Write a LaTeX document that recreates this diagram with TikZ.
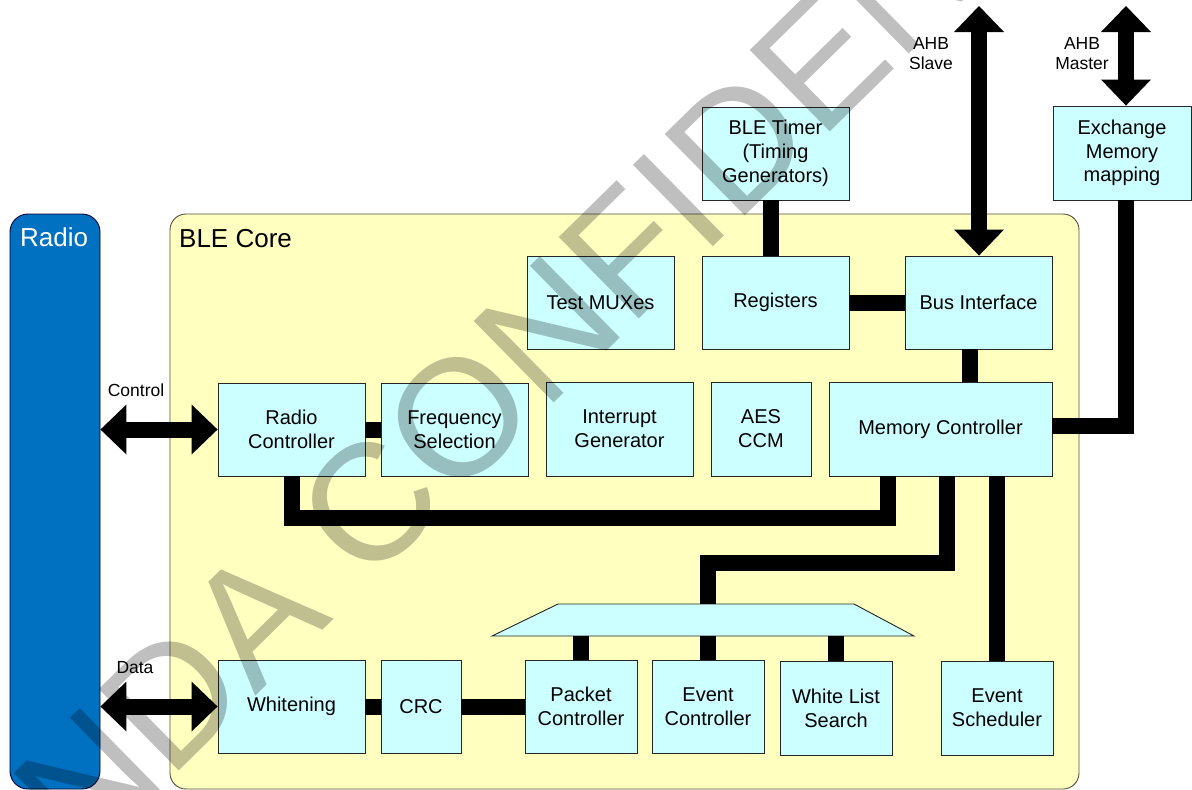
\documentclass[tikz,border=0pt]{standalone}
\usepackage{fontspec}
\setmainfont{Liberation Sans}
\usetikzlibrary{arrows.meta}
\definecolor{boxc}{RGB}{204,255,255}
\definecolor{corec}{RGB}{255,255,192}
\definecolor{radioc}{RGB}{0,112,192}
\definecolor{coreline}{RGB}{80,80,60}
\begin{document}
\begin{tikzpicture}[x=1pt,y=-1pt,
  box/.style={draw=black!85, line width=0.9pt, fill=boxc, align=center, inner sep=0pt, font=\fontsize{20}{23.8}\selectfont},
  shapeline/.style={draw=black!85, line width=0.9pt, fill=boxc},
  bus/.style={line width=16pt, line join=miter, draw=black},
  dbl/.style={line width=16pt, {Triangle[width=50pt,length=26pt,line width=0pt]}-{Triangle[width=50pt,length=26pt,line width=0pt]}},
  lbl/.style={align=center, inner sep=0pt, font=\fontsize{17.5}{20.3}\selectfont},
  title/.style={anchor=base west, inner sep=0pt, font=\fontsize{26}{30}\selectfont},
]
\useasboundingbox (0,0) rectangle (1192,790);
% containers
\node[draw=black!80!blue, line width=0.9pt, fill=radioc, rounded corners=18pt, minimum width=90pt, minimum height=575pt, inner sep=0pt] (radio) at (55,501.5) {};
\node[title, text=white] (radiot) at (20,246.5) {Radio};
\node[draw=coreline, line width=0.9pt, fill=corec, rounded corners=16pt, minimum width=909pt, minimum height=575pt, inner sep=0pt] (core) at (624.5,501.5) {};
\node[title] (coret) at (179,247) {BLE Core};
% boxes
\node[box, minimum width=147pt, minimum height=93pt] (timer) at (775.5,153.5) {BLE Timer\\(Timing\\Generators)};
\node[box, minimum width=138pt, minimum height=94pt] (exch) at (1122,153) {Exchange\\Memory\\mapping};
\node[box, minimum width=147pt, minimum height=93pt] (mux) at (600.5,302.5) {Test MUXes};
\node[box, minimum width=147pt, minimum height=93pt] (reg) at (775.5,302.5) {Registers};
\node[box, minimum width=147pt, minimum height=93pt] (bus) at (978.5,302.5) {Bus Interface};
\node[box, minimum width=147pt, minimum height=93pt] (rc) at (291.5,429.5) {Radio\\Controller};
\node[box, minimum width=147pt, minimum height=93pt] (fs) at (454.5,429.5) {Frequency\\Selection};
\node[box, minimum width=147pt, minimum height=94pt] (ig) at (619.5,429) {Interrupt\\Generator};
\node[box, minimum width=100pt, minimum height=94pt] (aes) at (761,429) {AES\\CCM};
\node[box, minimum width=223pt, minimum height=94pt] (mc) at (940.5,429) {Memory Controller};
\node[box, minimum width=147pt, minimum height=93pt] (wh) at (291.5,706.5) {Whitening};
\node[box, minimum width=80pt, minimum height=93pt] (crc) at (421,706.5) {CRC};
\node[box, minimum width=112pt, minimum height=93pt] (pc) at (581,706.5) {Packet\\Controller};
\node[box, minimum width=112pt, minimum height=93pt] (ec) at (708,706.5) {Event\\Controller};
\node[box, minimum width=112pt, minimum height=94pt] (wls) at (836,708) {White List\\Search};
\node[box, minimum width=112pt, minimum height=94pt] (es) at (997,708) {Event\\Scheduler};
% multiplexer trapezoid
\draw[shapeline] (492,636) -- (558,604) -- (854,604) -- (914,636) -- cycle;
\coordinate (trapT) at (706,604);
\coordinate (trapB) at (703,636);
% connectors
\coordinate (xt) at (771,0);
\draw[bus] (xt |- timer.south) -- (xt |- reg.north);
\draw[bus] (reg.east) -- (bus.west);
\coordinate (xb) at (970,0);
\draw[bus] (xb |- bus.south) -- (xb |- mc.north);
\coordinate (j4) at (1126,426);
\draw[bus] (mc.east |- j4) -- (j4) -- (j4 |- exch.south);
\draw[bus] (rc.east) -- (fs.west);
\coordinate (j1) at (887.5,518);
\draw[bus] (rc.south) |- (j1) -- (j1 |- mc.south);
\coordinate (j2) at (947,563);
\coordinate (j3) at (708,563);
\draw[bus] (j2 |- mc.south) -- (j2) -- (j3) -- (j3 |- trapT);
\draw[bus] (es.north |- mc.south) -- (es.north);
\draw[bus] (pc.north) -- (pc.north |- trapB);
\draw[bus] (ec.north) -- (ec.north |- trapB);
\draw[bus] (wls.north) -- (wls.north |- trapB);
\draw[bus] (wh.east) -- (crc.west);
\draw[bus] (crc.east) -- (pc.west);
% double arrows
\draw[dbl] (radio.east |- rc.west) -- (rc.west);
\draw[dbl] (radio.east |- wh.west) -- (wh.west);
\coordinate (ahbS) at (979,6);
\coordinate (ahbM) at (1126,6);
\draw[dbl] (ahbS) -- (ahbS |- bus.north);
\draw[dbl] (ahbM) -- (ahbM |- exch.north);
% labels
\node[lbl, anchor=base] (lctl) at (136,396.5) {Control};
\node[lbl, anchor=base] (ldat) at (135,673.5) {Data};
\node[lbl] (lslave) at (931,53.5) {AHB\\Slave};
\node[lbl] (lmaster) at (1082,53.5) {AHB\\Master};
% watermark
\node[anchor=base west, rotate=44.5, inner sep=0pt, text=black, text opacity=0.25, font=\fontsize{166}{166}\selectfont] (wm) at (84,865) {NDA CONFIDENTIAL};
\end{tikzpicture}
\end{document}
